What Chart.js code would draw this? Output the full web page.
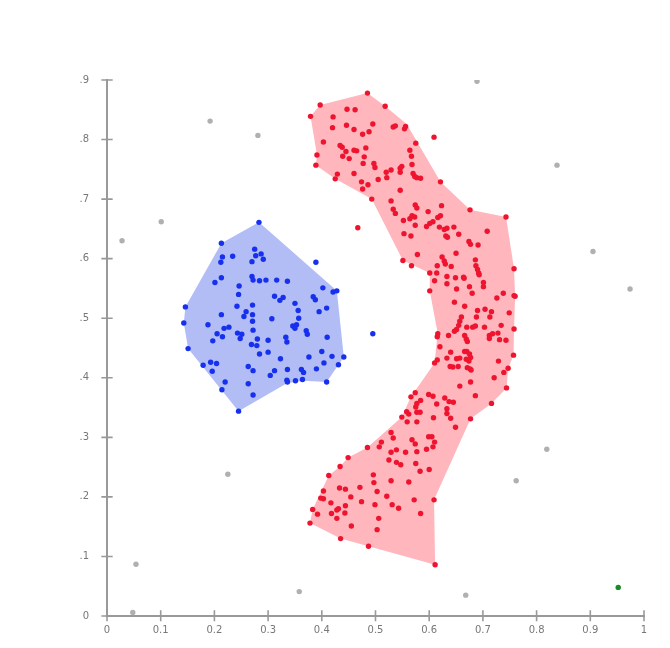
<!DOCTYPE html>
<html>
<head>
<meta charset="utf-8">
<script src="https://cdn.jsdelivr.net/npm/chart.js@4"></script>
<style>
  body { margin: 0; background: #fff; }
  #wrap { width: 670px; height: 648px; }
</style>
</head>
<body>
<div id="wrap"><canvas id="chart1"></canvas></div>
<script>
// cluster points [x, y]
let bluePts = [
  [0.283,0.661],[0.213,0.626],[0.215,0.603],[0.212,0.594],[0.234,0.604],[0.275,0.616],[0.277,0.605],[0.287,0.608],
  [0.291,0.599],[0.270,0.595],[0.389,0.594],[0.213,0.568],[0.201,0.560],[0.270,0.570],[0.272,0.564],[0.284,0.563],
  [0.296,0.564],[0.316,0.564],[0.336,0.562],[0.246,0.554],[0.245,0.540],[0.402,0.551],[0.421,0.544],[0.428,0.546],
  [0.384,0.536],[0.388,0.531],[0.312,0.537],[0.328,0.535],[0.322,0.530],[0.350,0.525],[0.146,0.519],[0.242,0.520],
  [0.271,0.522],[0.259,0.511],[0.255,0.503],[0.271,0.506],[0.271,0.495],[0.356,0.513],[0.409,0.517],[0.395,0.511],
  [0.213,0.506],[0.307,0.499],[0.357,0.500],[0.143,0.492],[0.188,0.489],[0.218,0.483],[0.227,0.485],[0.272,0.480],
  [0.346,0.487],[0.353,0.489],[0.350,0.483],[0.371,0.479],[0.373,0.473],[0.205,0.474],[0.215,0.469],[0.243,0.475],
  [0.251,0.473],[0.248,0.466],[0.197,0.462],[0.280,0.465],[0.300,0.463],[0.333,0.468],[0.335,0.460],[0.410,0.468],
  [0.269,0.456],[0.279,0.454],[0.151,0.449],[0.284,0.440],[0.300,0.443],[0.400,0.444],[0.323,0.432],[0.376,0.435],
  [0.419,0.436],[0.441,0.435],[0.179,0.421],[0.193,0.426],[0.204,0.424],[0.263,0.419],[0.404,0.425],[0.431,0.422],
  [0.196,0.411],[0.272,0.412],[0.304,0.404],[0.312,0.412],[0.336,0.414],[0.362,0.414],[0.366,0.409],[0.390,0.415],
  [0.220,0.393],[0.263,0.390],[0.335,0.396],[0.336,0.393],[0.351,0.395],[0.364,0.397],[0.409,0.393],[0.214,0.380],
  [0.272,0.371],[0.245,0.344],[0.495,0.474]
];

let redPts = [
  [0.485,0.878],[0.397,0.858],[0.379,0.839],[0.447,0.851],[0.462,0.850],[0.518,0.856],[0.421,0.838],[0.420,0.820],
  [0.446,0.824],[0.460,0.817],[0.476,0.809],[0.488,0.813],[0.495,0.826],[0.533,0.821],[0.537,0.823],[0.556,0.822],
  [0.554,0.818],[0.609,0.804],[0.403,0.796],[0.575,0.794],[0.434,0.790],[0.438,0.787],[0.445,0.780],[0.460,0.782],
  [0.465,0.781],[0.482,0.786],[0.439,0.772],[0.451,0.768],[0.479,0.771],[0.391,0.774],[0.389,0.757],[0.477,0.760],
  [0.497,0.760],[0.499,0.753],[0.564,0.782],[0.567,0.772],[0.568,0.758],[0.529,0.749],[0.546,0.752],[0.549,0.755],
  [0.546,0.745],[0.520,0.745],[0.521,0.736],[0.505,0.733],[0.570,0.743],[0.573,0.738],[0.577,0.736],[0.584,0.735],
  [0.429,0.742],[0.425,0.734],[0.460,0.743],[0.474,0.729],[0.486,0.724],[0.476,0.717],[0.621,0.729],[0.546,0.715],
  [0.493,0.700],[0.529,0.697],[0.533,0.683],[0.537,0.676],[0.574,0.690],[0.577,0.685],[0.623,0.689],[0.598,0.679],
  [0.467,0.652],[0.552,0.664],[0.564,0.667],[0.568,0.672],[0.573,0.670],[0.574,0.656],[0.595,0.654],[0.601,0.659],
  [0.607,0.662],[0.616,0.669],[0.621,0.672],[0.619,0.653],[0.628,0.649],[0.633,0.651],[0.646,0.653],[0.631,0.638],
  [0.634,0.636],[0.655,0.641],[0.676,0.682],[0.743,0.670],[0.708,0.646],[0.553,0.642],[0.566,0.638],[0.674,0.629],
  [0.677,0.624],[0.691,0.623],[0.578,0.607],[0.650,0.609],[0.551,0.597],[0.567,0.588],[0.624,0.603],[0.628,0.596],
  [0.630,0.591],[0.615,0.588],[0.641,0.587],[0.686,0.598],[0.687,0.588],[0.690,0.582],[0.758,0.583],
  [0.601,0.576],[0.614,0.576],[0.633,0.570],[0.649,0.568],[0.664,0.569],[0.665,0.567],[0.692,0.576],[0.693,0.573],
  [0.610,0.563],[0.633,0.558],[0.701,0.560],[0.651,0.549],[0.675,0.553],[0.680,0.542],[0.701,0.553],[0.601,0.546],
  [0.738,0.542],[0.726,0.534],[0.758,0.538],[0.760,0.537],[0.647,0.527],[0.666,0.520],[0.690,0.513],[0.704,0.515],
  [0.716,0.511],[0.749,0.509],[0.660,0.502],[0.657,0.495],[0.655,0.488],[0.647,0.478],[0.651,0.481],[0.670,0.485],
  [0.681,0.485],[0.686,0.487],[0.703,0.485],[0.688,0.502],[0.713,0.502],[0.734,0.488],[0.758,0.482],[0.616,0.474],
  [0.615,0.469],[0.636,0.471],[0.666,0.471],[0.669,0.465],[0.671,0.461],[0.712,0.471],[0.718,0.474],[0.712,0.466],
  [0.728,0.475],[0.731,0.464],[0.743,0.463],[0.620,0.452],[0.640,0.443],[0.666,0.444],[0.670,0.444],[0.675,0.440],
  [0.677,0.434],[0.633,0.433],[0.615,0.430],[0.610,0.425],[0.651,0.432],[0.657,0.433],[0.669,0.431],[0.674,0.428],
  [0.639,0.419],[0.644,0.418],[0.654,0.419],[0.671,0.417],[0.676,0.415],[0.678,0.413],[0.729,0.428],[0.757,0.438],
  [0.747,0.416],[0.739,0.409],[0.721,0.400],[0.677,0.393],[0.657,0.386],[0.744,0.383],[0.686,0.370],[0.716,0.357],
  [0.566,0.368],[0.574,0.375],[0.599,0.372],[0.607,0.369],[0.584,0.362],[0.577,0.357],[0.575,0.351],[0.614,0.356],
  [0.629,0.366],[0.637,0.360],[0.645,0.359],[0.633,0.348],[0.633,0.340],[0.640,0.332],[0.558,0.343],[0.562,0.339],
  [0.583,0.342],[0.577,0.342],[0.549,0.334],[0.559,0.326],[0.577,0.326],[0.608,0.333],[0.649,0.317],[0.677,0.331],
  [0.529,0.308],[0.533,0.299],[0.485,0.283],[0.507,0.284],[0.511,0.292],[0.568,0.296],[0.574,0.289],[0.599,0.301],
  [0.605,0.301],[0.610,0.292],[0.607,0.284],[0.595,0.280],[0.529,0.275],[0.539,0.279],[0.556,0.275],[0.577,0.276],
  [0.449,0.266],[0.434,0.251],[0.525,0.262],[0.539,0.258],[0.547,0.254],[0.575,0.256],[0.600,0.246],[0.583,0.243],
  [0.413,0.236],[0.496,0.237],[0.497,0.224],[0.529,0.227],[0.562,0.225],[0.403,0.210],[0.433,0.215],[0.444,0.213],
  [0.471,0.216],[0.503,0.209],[0.398,0.198],[0.403,0.197],[0.417,0.190],[0.454,0.200],[0.474,0.192],[0.521,0.201],
  [0.572,0.195],[0.609,0.195],[0.383,0.179],[0.392,0.171],[0.428,0.178],[0.431,0.180],[0.418,0.172],[0.444,0.185],
  [0.443,0.173],[0.428,0.164],[0.499,0.187],[0.531,0.187],[0.543,0.181],[0.584,0.172],[0.506,0.164],[0.378,0.156],
  [0.455,0.151],[0.503,0.145],[0.435,0.130],[0.487,0.117],[0.611,0.086]
];

let grayPts = [
  [0.028,0.630],[0.101,0.662],[0.192,0.831],[0.281,0.807],[0.225,0.238],[0.054,0.087],[0.048,0.006],[0.358,0.041],
  [0.689,0.898],[0.838,0.757],[0.905,0.612],[0.974,0.549],[0.819,0.280],[0.762,0.227],[0.668,0.035]
];

let greenPts = [[0.952,0.048]];

// outline polygons of the two clusters
let blueHull = [
  [0.283,0.661],[0.428,0.546],[0.441,0.435],[0.409,0.393],[0.366,0.395],[0.335,0.391],[0.245,0.344],
  [0.151,0.449],[0.143,0.492],[0.146,0.519],[0.213,0.626]
];

let redHull = [
  [0.485,0.878],[0.518,0.856],[0.558,0.826],[0.621,0.729],[0.676,0.682],[0.743,0.670],[0.758,0.583],
  [0.760,0.537],[0.758,0.482],[0.757,0.438],[0.747,0.416],[0.744,0.383],[0.716,0.357],[0.677,0.331],
  [0.609,0.195],[0.611,0.086],[0.487,0.117],[0.435,0.130],[0.378,0.156],[0.383,0.179],[0.413,0.236],
  [0.434,0.251],[0.449,0.266],[0.485,0.283],[0.549,0.334],[0.566,0.368],[0.610,0.425],[0.615,0.469],
  [0.616,0.474],[0.601,0.546],[0.601,0.576],[0.551,0.597],[0.493,0.700],[0.425,0.734],[0.389,0.757],
  [0.391,0.774],[0.379,0.839],[0.397,0.858]
];

let xTicks = [0, 0.1, 0.2, 0.3, 0.4, 0.5, 0.6, 0.7, 0.8, 0.9, 1];
let yTicks = [0, 0.1, 0.2, 0.3, 0.4, 0.5, 0.6, 0.7, 0.8, 0.9];

function toXY(arr) {
    return arr.map(function (p) { return { x: p[0], y: p[1] }; });
}

function dots(data, color) {
    return {
        data: toXY(data),
        backgroundColor: color,
        borderWidth: 0,
        pointRadius: 2.7,
        pointHoverRadius: 2.7
    };
}

// filled cluster outlines, under the dots
let hulls = {
    id: 'hulls',
    beforeDatasetsDraw: function (chart) {
        let c = chart.ctx;
        let xs = chart.scales.x, ys = chart.scales.y;
        let shapes = [[blueHull, 'rgb(178,189,246)'], [redHull, 'rgb(255,182,189)']];
        c.save();
        shapes.forEach(function (s) {
            c.beginPath();
            s[0].forEach(function (p, i) {
                let px = xs.getPixelForValue(p[0]), py = ys.getPixelForValue(p[1]);
                if (i === 0) c.moveTo(px, py); else c.lineTo(px, py);
            });
            c.closePath();
            c.fillStyle = s[1];
            c.fill();
        });
        c.restore();
    }
};

// tick marks crossing both axes: one short segment per tick, as a line dataset on the scales
let tickSegs = [];
xTicks.forEach(function (v) {
    tickSegs.push({ x: v, y: -0.009 }, { x: v, y: 0.0095 }, { x: NaN, y: NaN });
});
let xSpan = 0.0095 * (596 / 537);
yTicks.forEach(function (v) {
    tickSegs.push({ x: -xSpan, y: v }, { x: xSpan, y: v }, { x: NaN, y: NaN });
});

let chart1 = new Chart(document.getElementById("chart1"), {
    type: "scatter",
    data: {
        datasets: [
            {
                data: tickSegs,
                showLine: true,
                spanGaps: false,
                borderColor: '#999999',
                borderWidth: 1.6,
                pointRadius: 0,
                clip: 12
            },
            dots(grayPts, '#b0b0b0'),
            dots(bluePts, '#1630ee'),
            dots(redPts, '#ee1430'),
            dots(greenPts, '#1a8a2a')
        ]
    },
    options: {
        responsive: true,
        maintainAspectRatio: false,
        animation: false,
        layout: { padding: { top: 80, right: 26, left: 0, bottom: 0 } },
        plugins: {
            legend: { display: false },
            tooltip: { enabled: false }
        },
        scales: {
            x: {
                type: 'linear',
                min: 0,
                max: 1,
                afterFit: function (s) { s.height = 32; },
                grid: { display: false, drawTicks: false },
                border: { display: true, color: '#999', width: 2 },
                ticks: {
                    stepSize: 0.1,
                    padding: 8,
                    color: '#777',
                    font: { family: 'DejaVu Sans', size: 10 },
                    callback: function (v) {
                        if (Math.abs(v) < 1e-9) return '0';
                        if (Math.abs(v - 1) < 1e-9) return '1';
                        return v.toFixed(1);
                    }
                }
            },
            y: {
                type: 'linear',
                min: 0,
                max: 0.9,
                afterFit: function (s) { s.width = 107; },
                grid: { display: false, drawTicks: false },
                border: { display: true, color: '#999', width: 2 },
                ticks: {
                    stepSize: 0.1,
                    padding: 18,
                    color: '#777',
                    font: { family: 'DejaVu Sans', size: 10 },
                    callback: function (v) {
                        if (Math.abs(v) < 1e-9) return '0';
                        return v.toFixed(1).replace(/^0/, '');
                    }
                }
            }
        }
    },
    plugins: [hulls]
});
</script>
</body>
</html>
